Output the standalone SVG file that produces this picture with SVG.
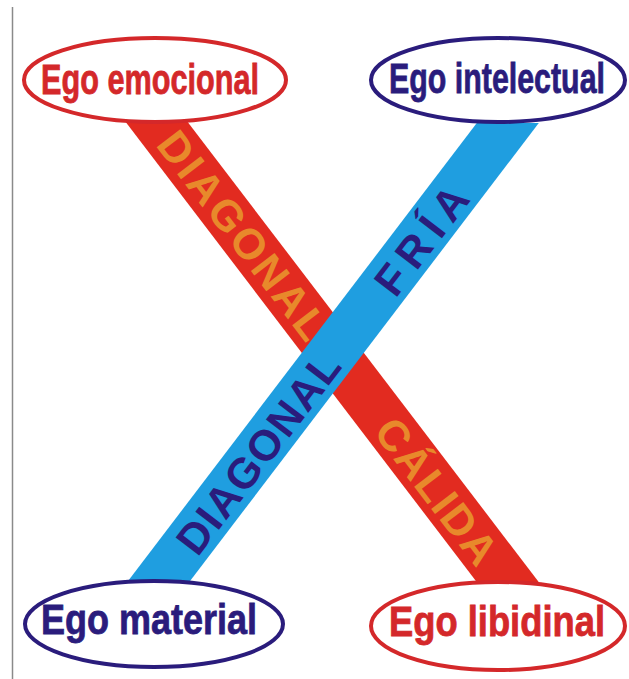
<svg xmlns="http://www.w3.org/2000/svg" width="629" height="679" viewBox="0 0 629 679">
<style>
.lbl{font-family:"Liberation Sans",Arial,sans-serif;font-weight:bold;font-size:43px;stroke-width:0.8}
.band{font-family:"Liberation Sans",Arial,sans-serif;font-weight:bold;font-size:43px;text-anchor:middle}
.red{fill:#d4282a;stroke:#d4282a}
.navy{fill:#2a1c7c;stroke:#2a1c7c}
.ered{fill:#fff;stroke:#d4282a;stroke-width:4}
.enavy{fill:#fff;stroke:#2a1c7c;stroke-width:4}
</style>
<rect width="629" height="679" fill="#fff"/>
<line x1="12.5" y1="7" x2="12.5" y2="679" stroke="#8a8a8a" stroke-width="1.5"/>
<g id="connectors">
<g id="diagonal-calida">
<polygon points="112.7,105 174.7,105 544.8,590 482.8,590" fill="#e22b20"/>
<text class="band" fill="#e8892b" transform="translate(243,235) rotate(52.7)" x="0" y="15.5" textLength="250" lengthAdjust="spacing">DIAGONAL</text>
<text class="band" fill="#e8892b" transform="translate(437,491) rotate(52.7)" x="0" y="15.5" textLength="172" lengthAdjust="spacing">CÁLIDA</text>
</g>
<g id="diagonal-fria">
<polygon points="476.8,123 538.8,123 183.2,590 121.2,590" fill="#1f9ee0"/>
<text class="band" fill="#2a1c7c" transform="translate(258,453) rotate(-52.7)" x="0" y="15.5" textLength="240" lengthAdjust="spacing">DIAGONAL</text>
<text class="band" fill="#2a1c7c" transform="translate(421,240) rotate(-52.7)" x="0" y="15.5" textLength="125" lengthAdjust="spacing">FRÍA</text>
</g>
</g>
<g id="ego-emocional">
<ellipse class="ered" cx="155" cy="80" rx="131" ry="42"/>
<text class="lbl red" x="41" y="94" textLength="218" lengthAdjust="spacingAndGlyphs">Ego emocional</text>
</g>
<g id="ego-intelectual">
<ellipse class="enavy" cx="498" cy="80" rx="127" ry="42"/>
<text class="lbl navy" x="389" y="93" textLength="216" lengthAdjust="spacingAndGlyphs">Ego intelectual</text>
</g>
<g id="ego-material">
<ellipse class="enavy" cx="154" cy="624" rx="129" ry="43"/>
<text class="lbl navy" x="41" y="634" textLength="216" lengthAdjust="spacingAndGlyphs">Ego material</text>
</g>
<g id="ego-libidinal">
<ellipse class="ered" cx="498" cy="626" rx="127" ry="44"/>
<text class="lbl red" x="389" y="636" textLength="216" lengthAdjust="spacingAndGlyphs">Ego libidinal</text>
</g>
</svg>
